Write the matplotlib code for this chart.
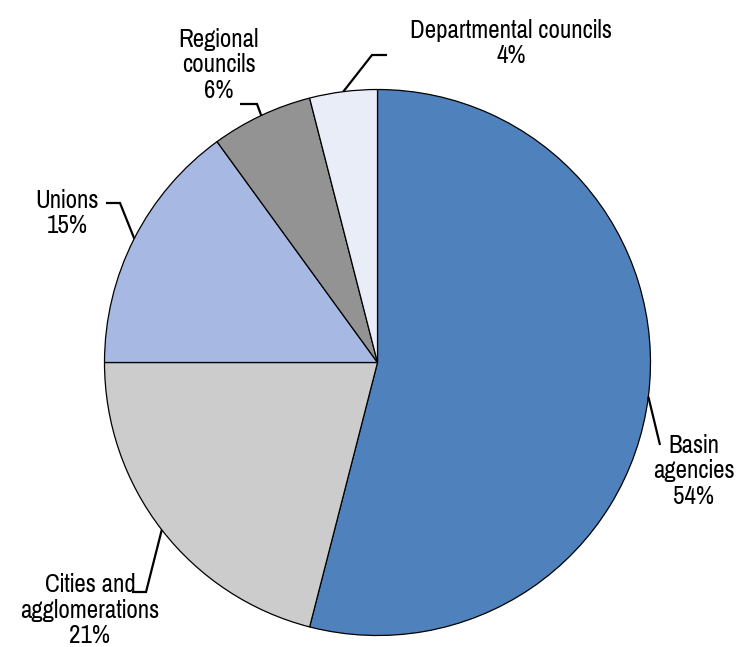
import numpy as np
import matplotlib
matplotlib.use("Agg")
import matplotlib.pyplot as plt

# Shares of funding by body (percent)
categories = ["Basin\nagencies", "Cities and\nagglomerations", "Unions",
              "Regional\ncouncils", "Departmental councils"]
shares = [54, 21, 15, 6, 4]
colors = ["#4F81BD", "#CCCCCC", "#A7B9E3", "#939393", "#E9EDF7"]

W, H = 738, 647
fig = plt.figure(figsize=(W / 100, H / 100), dpi=100)
ax = fig.add_axes([0, 0, 1, 1])

cx, cy, r = 377.5, H - 362.5, 273
wedges, _ = ax.pie(shares, colors=colors, startangle=90, counterclock=False,
                   center=(cx, cy), radius=r, frame=True,
                   wedgeprops=dict(edgecolor="black", linewidth=0.9))
ax.set_xlim(0, W)
ax.set_ylim(0, H)
ax.set_aspect("equal")
ax.axis("off")

font = dict(family=["Pragati Narrow", "Liberation Sans"], fontsize=19.5)

# label layout: text centre, leader elbow and leader end (pixel coords, y down)
layout = [
    dict(text=(694, 471), elbow=None, end=(660, 445)),
    dict(text=(90, 610), elbow=(146, 592), end=(132, 592)),
    dict(text=(67, 213), elbow=(120, 203), end=(106, 203)),
    dict(text=(219, 65), elbow=(257, 104), end=(240, 104)),
    dict(text=(511, 43), elbow=(372, 55), end=(387, 55)),
]

for w, cat, val, lay in zip(wedges, categories, shares, layout):
    mid = np.deg2rad((w.theta1 + w.theta2) / 2)
    pts = [(cx + r * np.cos(mid), cy + r * np.sin(mid))]
    if lay["elbow"] is not None:
        pts.append((lay["elbow"][0], H - lay["elbow"][1]))
    pts.append((lay["end"][0], H - lay["end"][1]))
    xs, ys = zip(*pts)
    ax.plot(xs, ys, color="black", lw=1.6, solid_capstyle="butt",
            solid_joinstyle="miter")
    tx, ty = lay["text"]
    ax.text(tx, H - ty, f"{cat}\n{val}%", ha="center", va="center",
            linespacing=1.15, color="black", **font)

fig.savefig("out.png", dpi=100)
